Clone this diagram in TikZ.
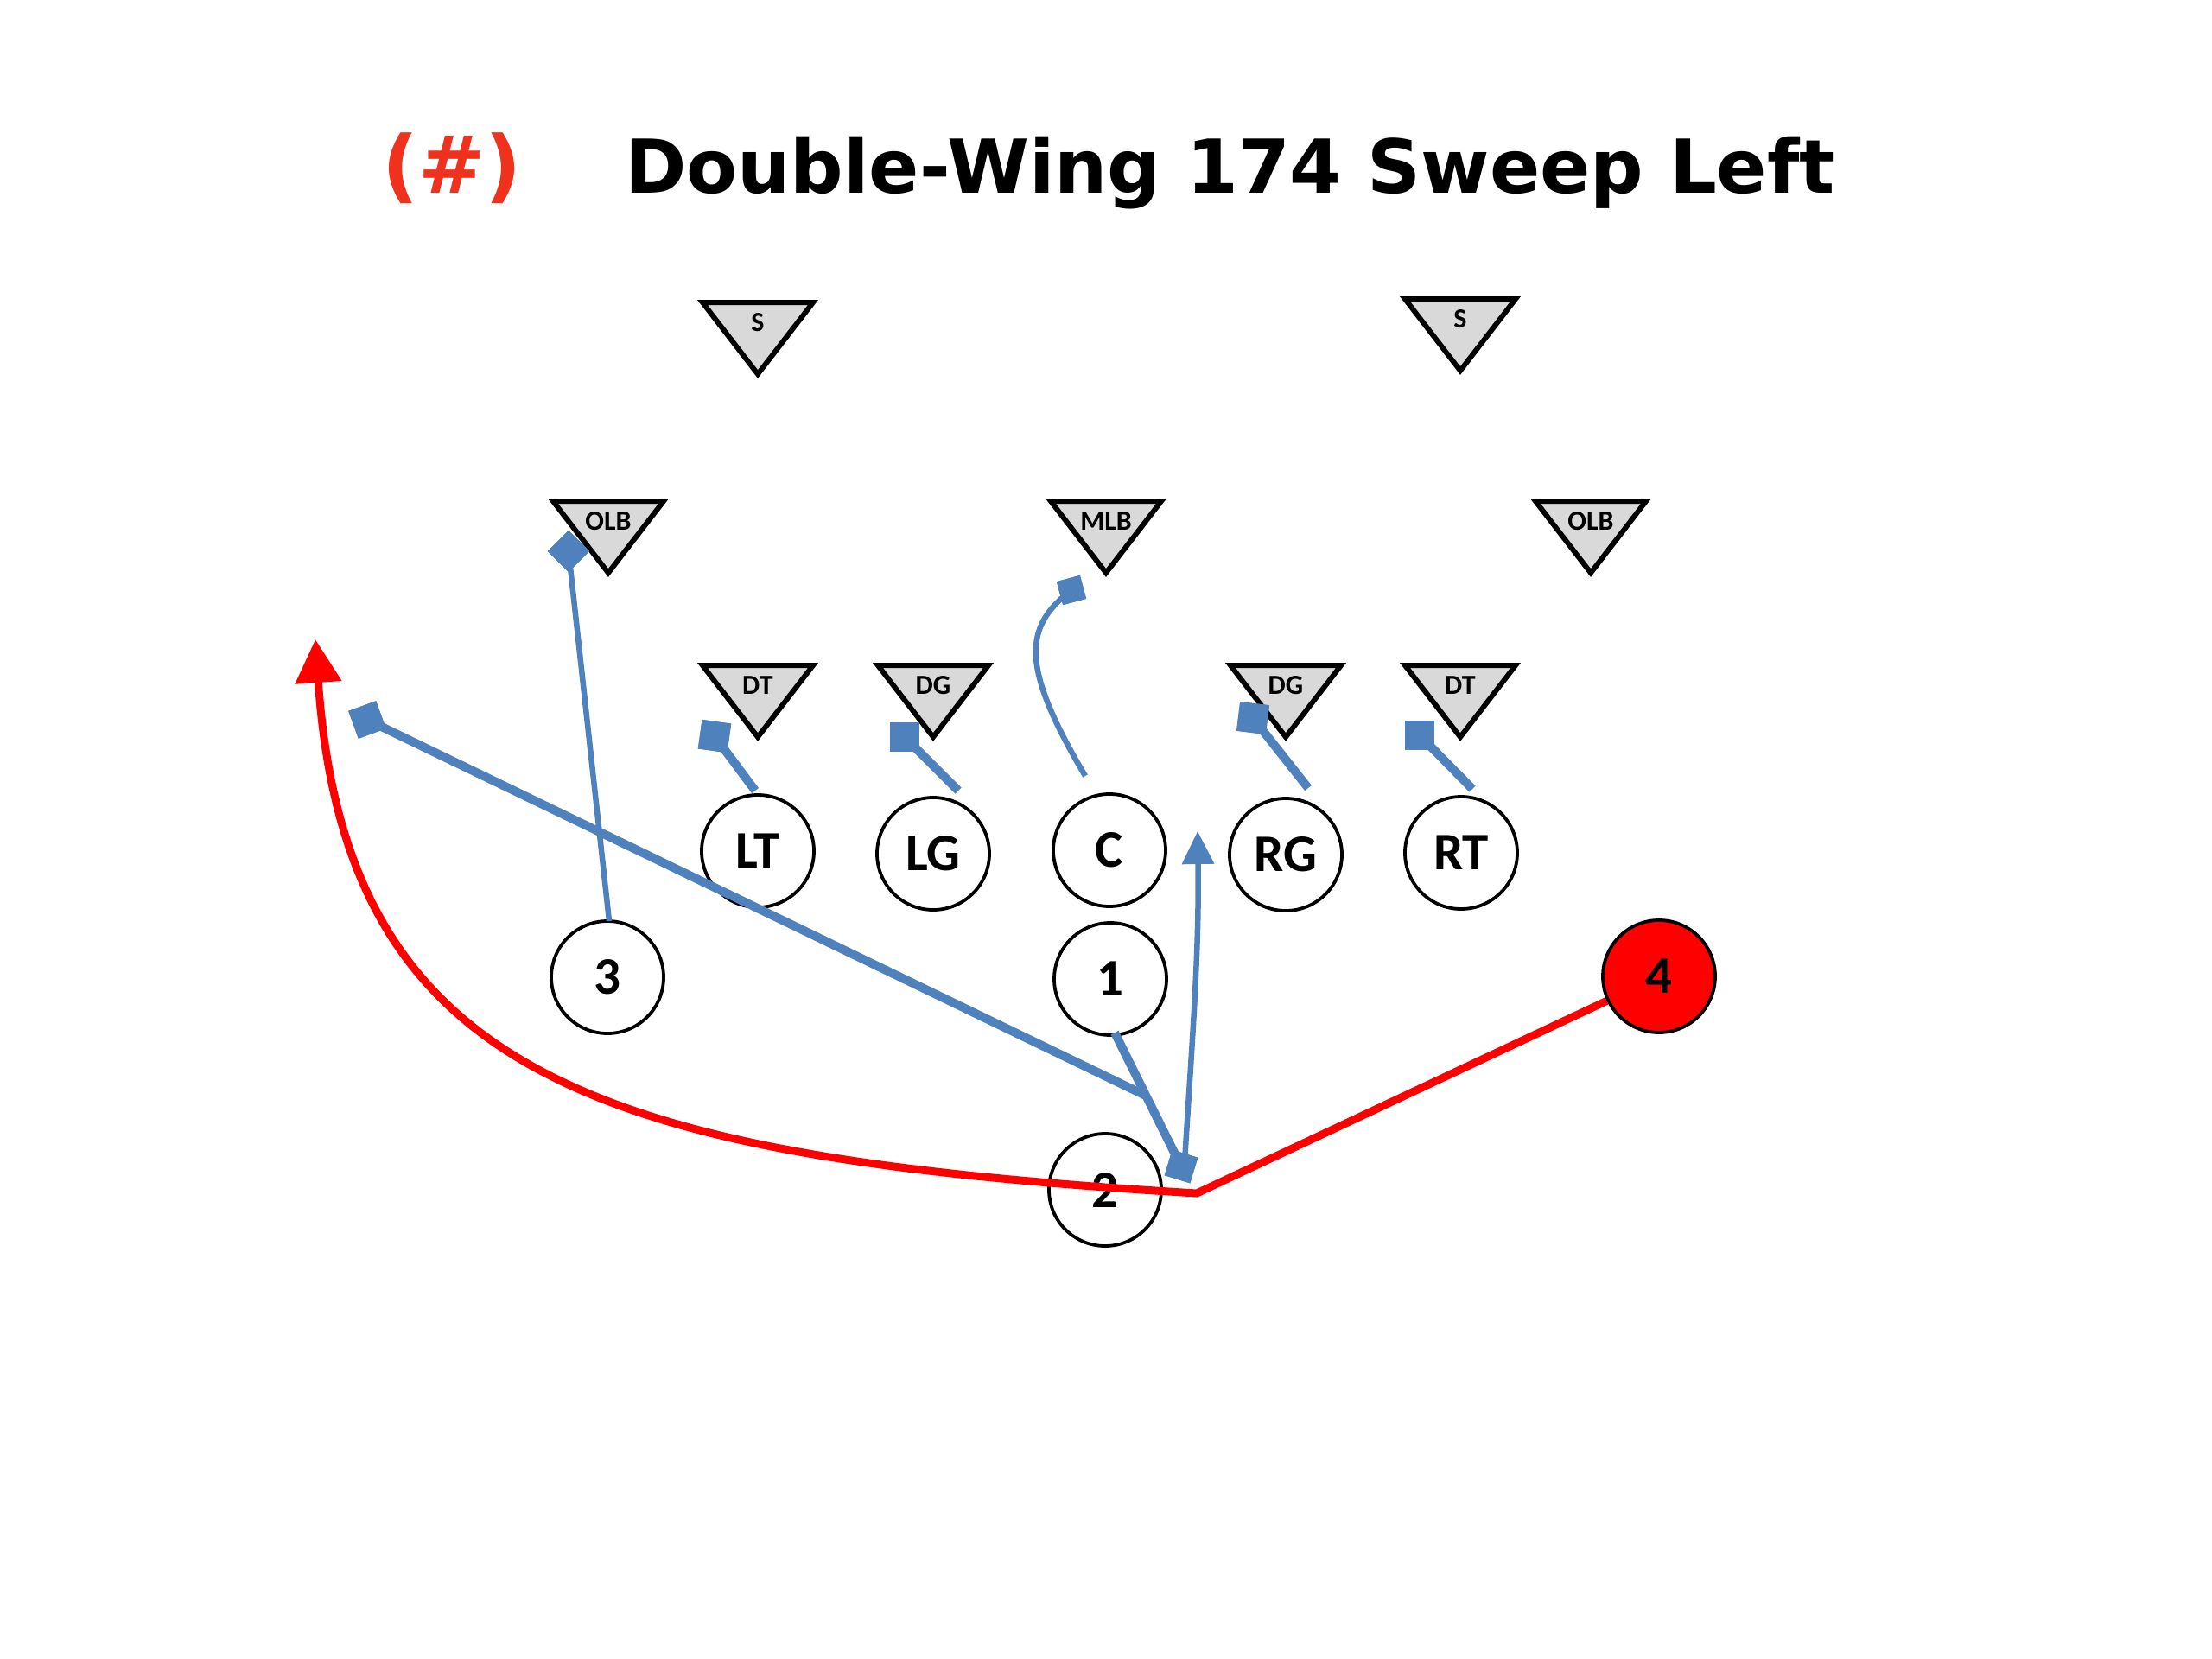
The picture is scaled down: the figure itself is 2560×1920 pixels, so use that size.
\documentclass[tikz,border=0pt]{standalone}
\usepackage{fontspec}
\setmainfont{Carlito}
\newfontfamily\titlefont{DejaVu Sans}
\usetikzlibrary{arrows.meta}
\definecolor{bluep}{RGB}{79,129,189}
\definecolor{trigray}{RGB}{217,217,217}
\definecolor{titlered}{RGB}{238,50,30}
\definecolor{runred}{RGB}{255,0,0}
\newcommand\deftri[4]{%
  \filldraw[tri] (#2-64,#3) -- (#2+64,#3) -- (#2,#3+83) -- cycle;
  \node[trilab] (#1) at (#2,#3+23) {#4};}
\begin{document}
\begin{tikzpicture}[x=1pt,y=-1pt,
  tri/.style={fill=trigray,draw=black,line width=6pt,line join=miter},
  trilab/.style={inner sep=0,font=\bfseries\fontsize{32}{32}\selectfont},
  player/.style={circle,draw=black,line width=3.8pt,fill=white,minimum size=130pt,inner sep=0,font=\bfseries\fontsize{61}{61}\selectfont},
  sqr/.style={rectangle,fill=bluep,draw=none,minimum size=34pt,inner sep=0},
  bthick/.style={draw=bluep,line width=10pt},
  bthin/.style={draw=bluep,line width=6.5pt},
  redl/.style={draw=runred,line width=9pt,line join=miter},
  tfont/.style={inner sep=0,font=\titlefont\bfseries\fontsize{86}{100}\selectfont}]
\useasboundingbox (0,0) rectangle (2560,1920);
\fill[white] (0,0) rectangle (2560,1920);
% title
\node[tfont,anchor=base west] (title) at (723,223) {Double-Wing 174 Sweep Left};
\node[tfont,anchor=base,text=titlered,font=\titlefont\bfseries\fontsize{92}{100}\selectfont] (num) at (523,223) {(\#)};
% defense
\deftri{S1}{877}{350}{S}
\deftri{S2}{1690}{346}{S}
\deftri{OLB1}{704}{580}{OLB}
\deftri{MLB}{1280}{580}{MLB}
\deftri{OLB2}{1841}{580}{OLB}
\deftri{DT1}{877}{770}{DT}
\deftri{DG1}{1080}{770}{DG}
\deftri{DG2}{1488}{770}{DG}
\deftri{DT2}{1690}{770}{DT}
% offense
\node[player] (LT) at (877,985) {LT};
\node[player] (LG) at (1080,988) {LG};
\node[player] (C) at (1284,984) {C};
\node[player] (RG) at (1488,989) {RG};
\node[player] (RT) at (1691,987) {RT};
\node[player] (three) at (703,1131) {3};
\node[player] (one) at (1285,1133) {1};
\node[player] (two) at (1279,1377) {2};
\node[player,fill=runred] (four) at (1920,1130) {4};
% block squares
\node[sqr,rotate=45] (qOLB) at (658,638) {};
\node[sqr,rotate=-8] (qLT) at (827,852) {};
\node[sqr] (qLG) at (1047,853) {};
\node[sqr,rotate=15,minimum size=28pt] (qMLB) at (1240,683) {};
\node[sqr,rotate=-7] (qRG) at (1450,831) {};
\node[sqr] (qRT) at (1643,851) {};
\node[sqr,rotate=20] (qFar) at (425,833) {};
\node[sqr,rotate=-17,minimum size=31pt] (qTwo) at (1367,1350) {};
% start points
\coordinate (s3) at (705,1066);
\coordinate (sLT) at (874,915);
\coordinate (sLG) at (1109,915);
\coordinate (sC) at (1256,898);
\coordinate (sRG) at (1514,912);
\coordinate (sRT) at (1704,913);
\coordinate (s1) at (1290,1195);
\coordinate (j1) at (1326,1268);
\coordinate (aTip) at (1386,962);
\coordinate (r) at (1385,1381);
\coordinate (rTip) at (365,740);
% blue blocks
\draw[bthin] (s3) -- (qOLB.center);
\draw[bthick] (sLT) -- (qLT.center);
\draw[bthick] (sLG) -- (qLG.center);
\draw[bthin] (sC) .. controls (1180,770) and (1185,725) .. (qMLB.center);
\draw[bthick] (sRG) -- (qRG.center);
\draw[bthick] (sRT) -- (qRT.center);
\draw[bthick] (s1) -- (qTwo.center);
\draw[bthick] (qFar.center) -- (j1);
\draw[bthin,-{Triangle[width=36pt,length=38pt]}] (qTwo.north) .. controls (1380,1200) and (1388,1100) .. (aTip);
% redraw squares on top
\foreach \q/\r/\s in {qOLB/45/34,qLT/-8/34,qLG/0/34,qMLB/15/28,qRG/-7/34,qRT/0/34,qFar/20/34,qTwo/-17/31}
  \node[sqr,rotate=\r,minimum size=\s pt] at (\q) {};
% red run
\draw[redl,-{Triangle[width=52pt,length=50pt]}] (four) -- (r) .. controls (700,1340) and (400,1250) .. (rTip);
\end{tikzpicture}
\end{document}
